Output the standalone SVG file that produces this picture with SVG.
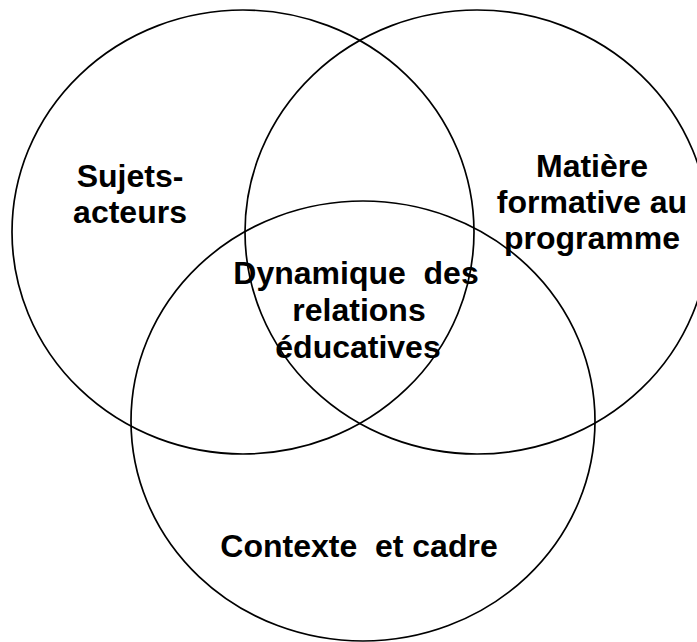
<svg xmlns="http://www.w3.org/2000/svg" width="697" height="642" viewBox="0 0 697 642">
<style>
.c{fill:none;stroke:#000;stroke-width:1.7}
.t{font-family:"Liberation Sans",Arial,sans-serif;font-weight:bold;font-size:32px;fill:#000;text-anchor:middle}
</style>
<rect width="697" height="642" fill="#fff"/>
<g id="sujets">
<ellipse class="c" cx="243" cy="232" rx="231" ry="222"/>
<text class="t" x="130" y="187">Sujets-</text>
<text class="t" x="130" y="223">acteurs</text>
</g>
<g id="matiere">
<ellipse class="c" cx="477" cy="232" rx="232" ry="222"/>
<text class="t" x="592" y="177">Matière</text>
<text class="t" x="592" y="213">formative au</text>
<text class="t" x="592" y="249">programme</text>
</g>
<g id="contexte">
<ellipse class="c" cx="363" cy="421" rx="232" ry="220"/>
<text class="t" x="359" y="557" xml:space="preserve">Contexte  et cadre</text>
</g>
<g id="dynamique">
<text class="t" x="356" y="284" xml:space="preserve">Dynamique  des</text>
<text class="t" x="359" y="321">relations</text>
<text class="t" x="358" y="358">éducatives</text>
</g>
<g id="connectors"></g>
</svg>
